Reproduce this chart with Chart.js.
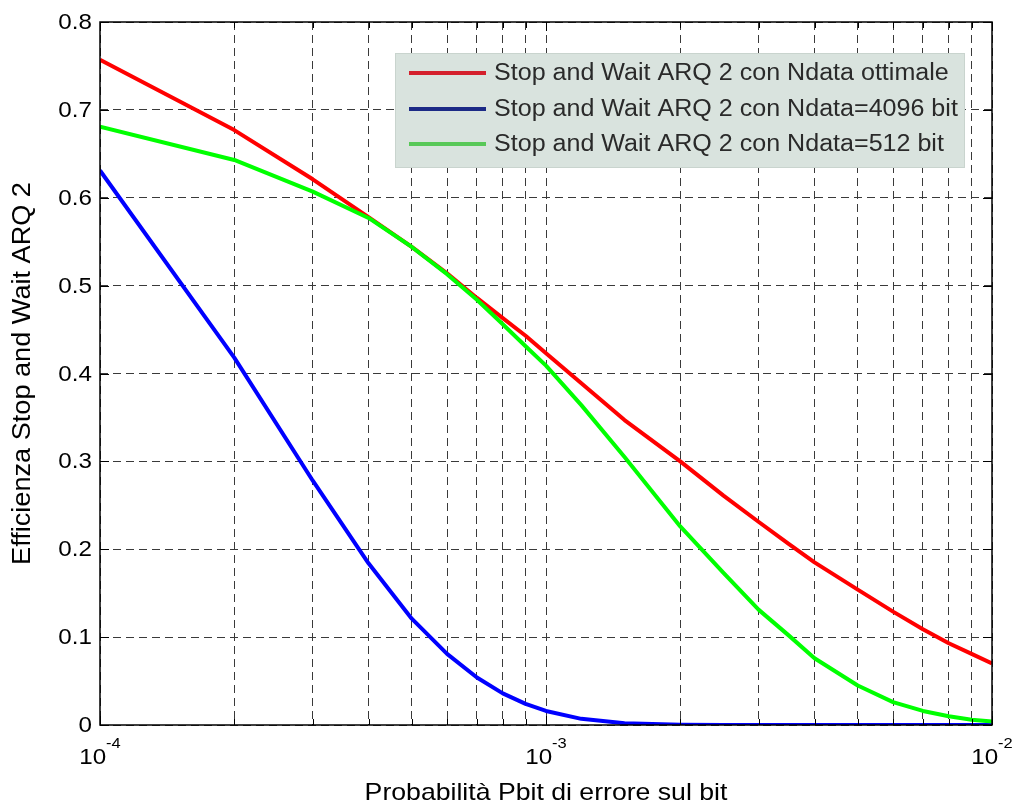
<!DOCTYPE html>
<html>
<head>
<meta charset="utf-8">
<script src="https://cdn.jsdelivr.net/npm/chart.js@4.4.1/dist/chart.umd.min.js"></script>
<style>
html,body{margin:0;padding:0;background:#ffffff;}
#wrap{width:1018px;height:805px;}
</style>
</head>
<body>
<div id="wrap"><canvas id="c" width="1018" height="805"></canvas></div>
<script>
// ---- data ----
const pbit = [1e-4,2e-4,3e-4,4e-4,5e-4,6e-4,7e-4,8e-4,9e-4,1e-3,1.2e-3,1.5e-3,2e-3,2.5e-3,3e-3,3.5e-3,4e-3,5e-3,6e-3,7e-3,8e-3,9e-3,1e-2];
const effOttimale = [0.757,0.677,0.621,0.578,0.544,0.514,0.486,0.463,0.443,0.423,0.389,0.347,0.300,0.261,0.231,0.206,0.185,0.154,0.129,0.109,0.093,0.081,0.070];
const eff4096    = [0.631,0.418,0.278,0.184,0.121,0.081,0.054,0.036,0.024,0.016,0.007,0.002,0.0003,0,0,0,0,0,0,0,0,0,0];
const eff512     = [0.681,0.643,0.607,0.577,0.544,0.513,0.484,0.456,0.431,0.409,0.364,0.305,0.226,0.173,0.131,0.102,0.076,0.045,0.026,0.016,0.010,0.006,0.004];
const seriesLabels = [
  'Stop and Wait ARQ 2 con Ndata ottimale',
  'Stop and Wait ARQ 2 con Ndata=4096 bit',
  'Stop and Wait ARQ 2 con Ndata=512 bit'
];
const yTickValues = [0,0.1,0.2,0.3,0.4,0.5,0.6,0.7,0.8];
const yTickLabels = ['0','0.1','0.2','0.3','0.4','0.5','0.6','0.7','0.8'];
const xGridValues = [1e-4,2e-4,3e-4,4e-4,5e-4,6e-4,7e-4,8e-4,9e-4,1e-3,2e-3,3e-3,4e-3,5e-3,6e-3,7e-3,8e-3,9e-3,1e-2];
const xDecadeValues = [1e-4,1e-3,1e-2];
const xDecadeBase = '10';
const xDecadeExponents = ['-4','-3','-2'];
const xAxisTitle = 'Probabilità Pbit di errore sul bit';
const yAxisTitle = 'Efficienza Stop and Wait ARQ 2';

// ---- styles ----
const lineColors = ['#ff0000','#0000ff','#00ff00'];
const legendLineColors = ['#d4202c','#1c2a86','#58c858'];
const FONT = '"Liberation Sans", Arial, Helvetica, sans-serif';

function pts(arr){ return pbit.map((x,i)=>({x:x, y:arr[i]})); }

function stretchedText(ctx, text, x, y, size, align, baseline, sx, color){
  ctx.save();
  ctx.translate(x, y);
  ctx.scale(sx, 1);
  ctx.font = size + 'px ' + FONT;
  ctx.fillStyle = color || '#000';
  ctx.textAlign = align;
  ctx.textBaseline = baseline;
  ctx.fillText(text, 0, 0);
  ctx.restore();
}

const decor = {
  id: 'decor',
  afterDatasetsDraw(chart){
    const ctx = chart.ctx, a = chart.chartArea;
    // legend box
    const bx = a.left + 295, by = a.top + 31, bw = 570, bh = 115;
    ctx.save();
    ctx.fillStyle = '#d9e3de';
    ctx.fillRect(bx, by, bw, bh);
    ctx.strokeStyle = '#c9d4ce';
    ctx.lineWidth = 1;
    ctx.strokeRect(bx+0.5, by+0.5, bw-1, bh-1);
    const rows = [by+20, by+56, by+91];
    chart.data.datasets.forEach((ds, i) => {
      ctx.strokeStyle = legendLineColors[i];
      ctx.lineWidth = 4;
      ctx.beginPath();
      ctx.moveTo(bx+14, rows[i]);
      ctx.lineTo(bx+91, rows[i]);
      ctx.stroke();
      stretchedText(ctx, ds.label, bx+99, rows[i]+1, 23, 'left', 'middle', 1.09, '#2a2a2a');
    });
    ctx.restore();
  },
  afterDraw(chart){
    const ctx = chart.ctx, a = chart.chartArea;
    const xs = chart.scales.x, ys = chart.scales.y;
    ctx.save();
    // axes box
    ctx.strokeStyle = '#000';
    ctx.lineWidth = 1.5;
    ctx.strokeRect(a.left, a.top, a.right - a.left, a.bottom - a.top);
    // tick marks (inward)
    ctx.lineWidth = 1;
    ctx.beginPath();
    xs.ticks.forEach(t => {
      const px = Math.round(xs.getPixelForValue(t.value)) + 0.5;
      const len = xDecadeValues.includes(t.value) ? 9 : 6;
      ctx.moveTo(px, a.bottom); ctx.lineTo(px, a.bottom - len);
      ctx.moveTo(px, a.top); ctx.lineTo(px, a.top + len);
    });
    ys.ticks.forEach(t => {
      const py = Math.round(ys.getPixelForValue(t.value)) + 0.5;
      ctx.moveTo(a.left, py); ctx.lineTo(a.left + 9, py);
      ctx.moveTo(a.right, py); ctx.lineTo(a.right - 9, py);
    });
    ctx.stroke();
    // y tick labels
    yTickValues.forEach((v, i) => {
      const py = ys.getPixelForValue(v);
      stretchedText(ctx, yTickLabels[i], a.left - 8, py + 1, 22, 'right', 'middle', 1.1, '#000');
    });
    // x tick labels 10^n
    xDecadeValues.forEach((v, i) => {
      const px = xs.getPixelForValue(v);
      ctx.font = '22px ' + FONT;
      const w1 = ctx.measureText(xDecadeBase).width * 1.1;
      ctx.font = '15px ' + FONT;
      const w2 = ctx.measureText(xDecadeExponents[i]).width * 1.1;
      const x0 = px - (w1 + w2) / 2;
      stretchedText(ctx, xDecadeBase, x0, a.bottom + 39, 22, 'left', 'alphabetic', 1.1, '#000');
      stretchedText(ctx, xDecadeExponents[i], x0 + w1, a.bottom + 23, 15, 'left', 'alphabetic', 1.1, '#000');
    });
    // axis titles
    stretchedText(ctx, xAxisTitle, (a.left + a.right) / 2, a.bottom + 75, 24, 'center', 'alphabetic', 1.11, '#000');
    ctx.save();
    ctx.translate(a.left - 77, (a.top + a.bottom) / 2);
    ctx.rotate(-Math.PI / 2);
    ctx.scale(1.13, 1.08);
    ctx.font = '24px ' + FONT;
    ctx.fillStyle = '#000';
    ctx.textAlign = 'center';
    ctx.textBaseline = 'middle';
    ctx.fillText(yAxisTitle, 0, 0);
    ctx.restore();
    ctx.restore();
  }
};

new Chart(document.getElementById('c'), {
  type: 'line',
  data: {
    datasets: [
      {label: seriesLabels[0], data: pts(effOttimale), borderColor: lineColors[0], order: 2},
      {label: seriesLabels[1], data: pts(eff4096), borderColor: lineColors[1], order: 1},
      {label: seriesLabels[2], data: pts(eff512), borderColor: lineColors[2], order: 0}
    ]
  },
  options: {
    responsive: false,
    animation: false,
    devicePixelRatio: 1,
    layout: {padding: {left: 100, top: 22, right: 26, bottom: 80}},
    plugins: {legend: {display: false}, tooltip: {enabled: false}},
    elements: {
      point: {radius: 0, hoverRadius: 0},
      line: {tension: 0, borderWidth: 4, fill: false, borderJoinStyle: 'round'}
    },
    scales: {
      x: {
        type: 'logarithmic', min: 1e-4, max: 1e-2,
        afterBuildTicks: s => { s.ticks = xGridValues.map(v => ({value: v, major: xDecadeValues.includes(v)})); },
        ticks: {display: false},
        grid: {color: '#3a3a3a', lineWidth: 1, drawTicks: false},
        border: {display: false, dash: [8, 5]},
        title: {display: false}
      },
      y: {
        type: 'linear', min: 0, max: 0.8,
        afterBuildTicks: s => { s.ticks = yTickValues.map(v => ({value: v})); },
        ticks: {display: false},
        grid: {color: '#3a3a3a', lineWidth: 1, drawTicks: false},
        border: {display: false, dash: [8, 5]},
        title: {display: false}
      }
    }
  },
  plugins: [decor]
});
</script>
</body>
</html>
